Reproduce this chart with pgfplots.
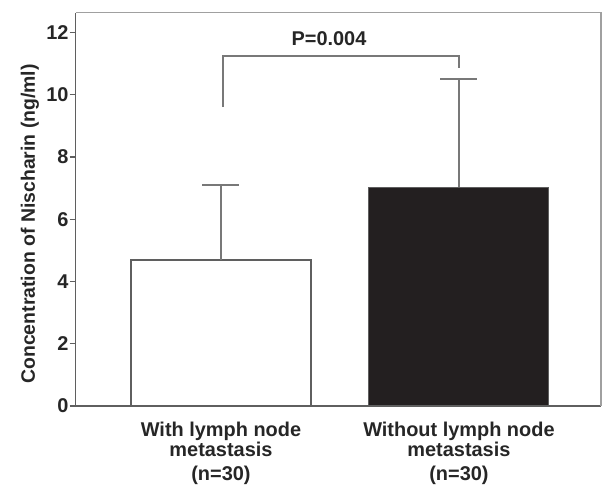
\documentclass[border=0pt]{standalone}
\usepackage{pgfplots}
\pgfplotsset{compat=1.18}
\usepackage{fontspec}
\setmainfont{Liberation Sans}
\definecolor{axgray}{RGB}{95,95,95}
\definecolor{lightax}{RGB}{160,160,160}
\definecolor{barblack}{RGB}{35,31,32}
\definecolor{errgray}{RGB}{120,120,120}
\begin{document}
\begin{tikzpicture}
  \path[use as bounding box] (-75.7bp,-79bp) rectangle (527.3bp,406bp);
  \begin{axis}[
      at={(0,0)}, anchor=south west,
      scale only axis, width=525.3bp, height=393.3bp,
      xmin=-0.6105, xmax=1.597, ymin=0, ymax=12.63,
      axis x line*=bottom, axis y line*=left,
      axis line style={draw=axgray, line width=1.3bp, -},
      ytick={0,2,...,12},
      xtick={0,1},
      xticklabels={{With lymph node\\metastasis\\[4bp](n=30)},
                   {Without lymph node\\metastasis\\[4bp](n=30)}},
      tick align=outside,
      major tick length=6bp,
      x tick style={draw=none},
      y tick style={draw=axgray, line width=1.3bp},
      tick label style={font=\fontsize{20}{20}\selectfont\bfseries, text=black!85},
      xticklabel style={align=center, font=\fontsize{20}{20}\selectfont\bfseries, yshift=-7bp},
      yticklabel style={inner sep=1bp},
      /pgf/number format/assume math mode=true,
      clip=false,
    ]
    \draw[lightax, line width=1.1bp] (rel axis cs:0,1) -- (rel axis cs:1,1) -- (rel axis cs:1,0);
    \addplot[ybar, bar width=180bp, bar shift=0pt, fill=white, draw=axgray, line width=1.1bp,
      error bars/.cd, y dir=plus, y explicit,
      error bar style={draw=errgray, line width=1.3bp},
      error mark options={rotate=90, draw=errgray, line width=1.3bp, mark size=18.5bp}]
      coordinates {(0,4.69) +- (0,2.41)};
    \addplot[ybar, bar width=180bp, bar shift=0pt, fill=barblack, draw=axgray, line width=1.1bp,
      error bars/.cd, y dir=plus, y explicit,
      error bar style={draw=errgray, line width=1.3bp},
      error mark options={rotate=90, draw=errgray, line width=1.3bp, mark size=18.5bp}]
      coordinates {(1,7.03) +- (0,3.47)};
    \draw[errgray, line width=1.3bp] (axis cs:0.008,9.6) -- (axis cs:0.008,11.24)
      -- (axis cs:1,11.24) -- (axis cs:1,10.85);
    \node[font=\fontsize{20}{20}\selectfont\bfseries, text=black!85]
      at (axis cs:0.454,11.79) {P=0.004};
    \node[rotate=90, font=\fontsize{19.5}{20}\selectfont\bfseries, text=black!85]
      at ([xshift=-45.7bp]rel axis cs:0,0.463) {Concentration of Nischarin (ng/ml)};
  \end{axis}
\end{tikzpicture}
\end{document}
